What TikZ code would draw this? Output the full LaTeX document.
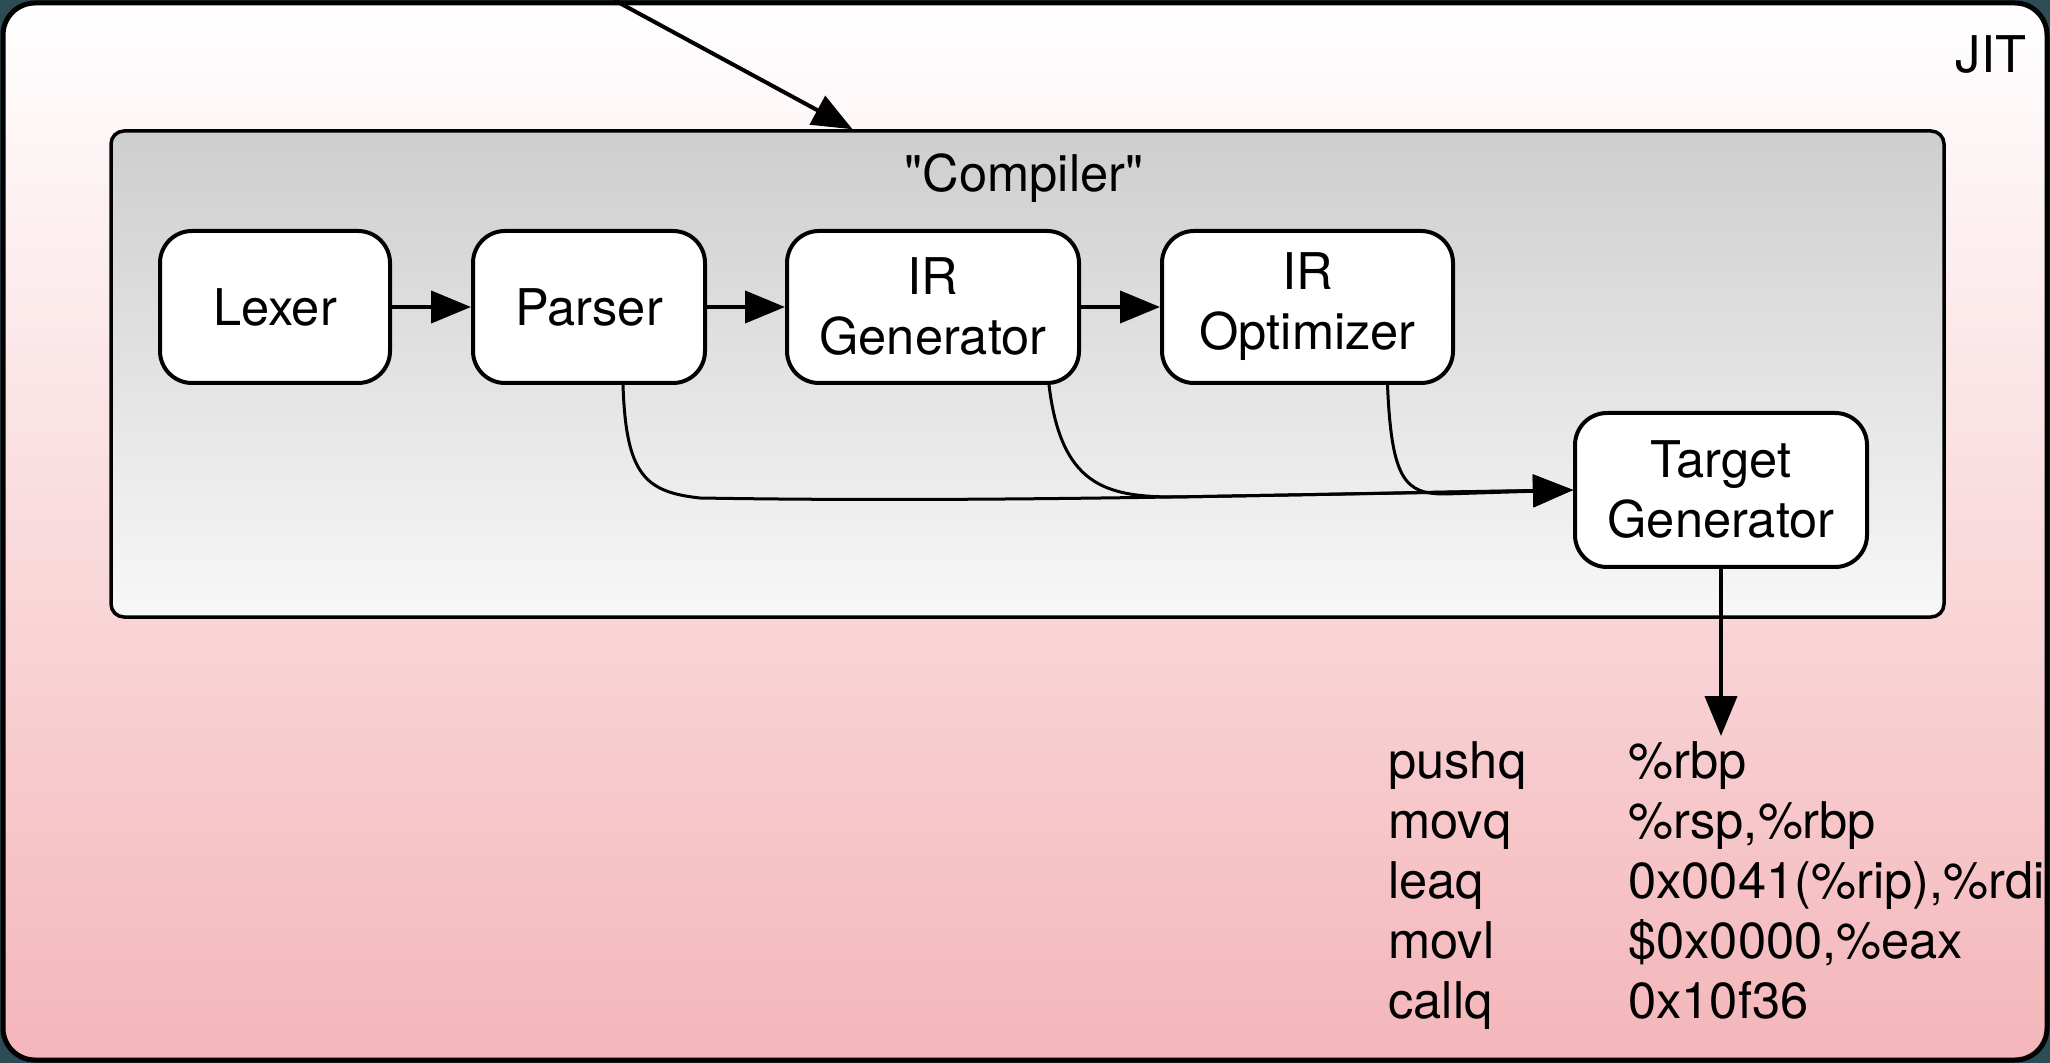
\documentclass[tikz,border=0pt]{standalone}
\usepackage{fontspec}
\setmainfont{TeX Gyre Heros}[Ligatures=TeXOff]
\usetikzlibrary{arrows.meta,calc}

\definecolor{corner}{RGB}{44,76,86}
\definecolor{jitpink}{RGB}{244,182,186}
\definecolor{compgray}{RGB}{206,206,206}

\newcommand\RowY{307}
\newcommand\MergeY{494}

\tikzset{
  stage/.style={draw, line width=2pt, fill=white, rounded corners=16pt,
    minimum height=76pt, inner sep=0pt, align=center},
  flow/.style={line width=2pt, -{Triangle[length=20pt,width=16pt]}},
  feed/.style={line width=1.5pt, -{Triangle[length=20pt,width=16pt]}},
}

\begin{document}
\begin{tikzpicture}[x=0.5pt, y=-0.5pt, font=\fontsize{25.3}{30}\selectfont]

  \useasboundingbox (0,0) rectangle (2050,1063);
  \fill[corner] (0,0) rectangle (2050,1063);
  \draw[line width=2.5pt, rounded corners=16pt, top color=white, bottom color=jitpink]
    (3,3) rectangle (2047,1060); %% JIT frame

  \node[draw, line width=1.75pt, rounded corners=6.5pt, top color=compgray,
    bottom color=white!97!black, minimum width=916.5pt, minimum height=243pt,
    inner sep=0pt] (compiler) at (1027.5,374) {};
  \node (complabel) at (1024,178) {"Compiler"};
  \node (jit) at (1991,55) {JIT};

  \node[stage, minimum width=115pt] (lexer) at (275,\RowY) {Lexer};
  \node[stage, minimum width=116pt] (parser) at (589,\RowY) {Parser};
  \node[stage, minimum width=146pt] (irgen) at (933,\RowY) {IR\\Generator};
  \node[stage, minimum width=145.5pt] (iropt) at (1307.5,\RowY) {IR\\Optimizer};
  \node[stage, minimum width=146pt, minimum height=77pt] (target) at (1721,490) {Target\\Generator};

  \node[anchor=north west, inner sep=0pt] (asm) at (1388,736) {%
    \begin{tabular}{@{}p{120pt}@{}l@{}}
      pushq & \%rbp\\
      movq  & \%rsp,\%rbp\\
      leaq  & 0x0041(\%rip),\%rdi\\
      movl  & \$0x0000,\%eax\\
      callq & 0x10f36
    \end{tabular}};

  \coordinate (entry) at (614,0);
  \draw[flow] (entry) -- ($(compiler.north)+(-175,0)$); %% into compiler

  \draw[flow] (lexer) -- (parser);
  \draw[flow] (parser) -- (irgen);
  \draw[flow] (irgen) -- (iropt);

  \draw[feed] ($(parser.south)+(34,0)$) .. controls +(3,90) and +(-55,-6) .. (700,498)
    .. controls (1000,503) and (1300,494) .. (target.west); %% parser -> target
  \draw[feed] ($(irgen.south)+(116,0)$) .. controls +(12,100) and +(-70,0) .. (1175,497)
    -- (target.west); %% irgen -> target
  \draw[feed] ($(iropt.south)+(80,0)$) .. controls +(4,95) and +(-40,0) .. (1445,\MergeY)
    -- (target.west); %% iropt -> target

  \draw[flow] (target) -- (target.south |- asm.north); %% emitted code

\end{tikzpicture}
\end{document}
